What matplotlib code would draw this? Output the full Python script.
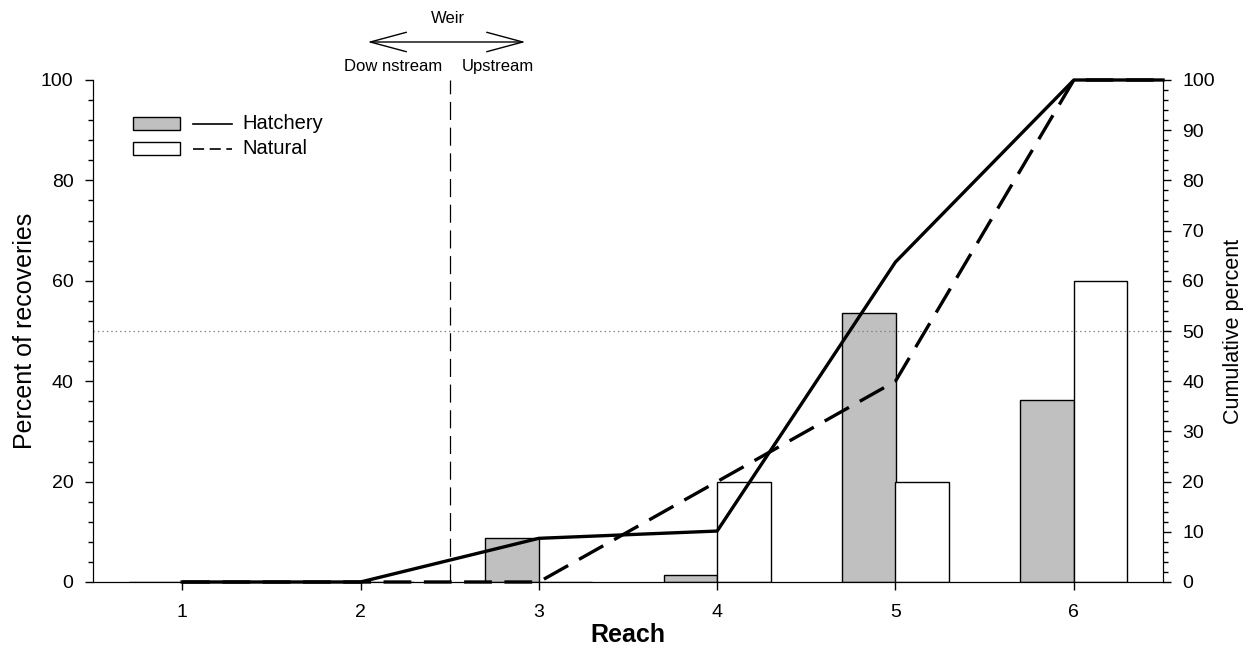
import matplotlib
matplotlib.use('Agg')
import matplotlib.pyplot as plt
from matplotlib.patches import Rectangle

plt.rcParams['font.family'] = ['Liberation Sans', 'DejaVu Sans']
plt.rcParams['lines.scale_dashes'] = False

reach = [1, 2, 3, 4, 5, 6]
hatchery_pct = [0, 0, 8.7, 1.45, 53.6, 36.2]
natural_pct = [0, 0, 0, 20, 20, 60]

cum_x = [1, 2, 3, 4, 5, 6, 6.5]
hatchery_cum = [0, 0, 8.7, 10.15, 63.75, 100, 100]
natural_cum = [0, 0, 0, 20, 40, 100, 100]

weir_pos = 2.5

fig = plt.figure(figsize=(12.51, 6.49), dpi=100)
ax = fig.add_axes([93/1251, 1-582/649, 1070/1251, 502/649])
ax2 = ax.twinx()

w = 0.3
ax.bar([r - w for r in reach], hatchery_pct, width=w, align='edge',
       color='#c0c0c0', edgecolor='black', linewidth=1)
ax.bar(reach, natural_pct, width=w, align='edge',
       color='white', edgecolor='black', linewidth=1)

ax.set_xlim(0.5, 6.5)
ax.set_ylim(0, 100)
ax.set_xticks(reach)
ax.set_yticks(range(0, 101, 20))
ax.set_yticks(range(0, 101, 4), minor=True)
ax.spines['top'].set_visible(False)
ax2.spines['top'].set_visible(False)

ax.axhline(50, color='#808080', lw=0.9, linestyle=(0, (1, 2.2)))
ax.axvline(weir_pos, ymin=0, ymax=1, color='black', lw=0.9, linestyle=(0, (13, 5.5)))

ax2.plot(cum_x, hatchery_cum, color='black', lw=2.4, clip_on=False, zorder=5)
ax2.plot(cum_x, natural_cum, color='black', lw=2.4, linestyle=(0, (20, 9)),
         clip_on=False, zorder=5)
ax2.set_ylim(0, 100)
ax2.set_yticks(range(0, 101, 10))
ax2.set_yticks(range(0, 101, 2), minor=True)

for a in (ax, ax2):
    a.tick_params(which='major', length=6, width=1, labelsize=14, direction='out')
    a.tick_params(which='minor', length=3.5, width=1, direction='out')
ax.tick_params(axis='x', pad=10)
ax.tick_params(axis='y', pad=8)
ax2.tick_params(axis='y', pad=8)

ax.set_xlabel('Reach', fontsize=18, fontweight='bold', labelpad=1)
ax.set_ylabel('Percent of recoveries', fontsize=18, labelpad=3)
ax2.set_ylabel('Cumulative percent', fontsize=15.5, labelpad=6)

# weir annotation above plot
ax.annotate('', xy=(2.04, 1.0757), xytext=(2.925, 1.0757),
            xycoords=('data', 'axes fraction'), textcoords=('data', 'axes fraction'),
            arrowprops=dict(arrowstyle='<->,head_length=26,head_width=7',
                            mutation_scale=1, lw=1, color='black',
                            shrinkA=0, shrinkB=0), annotation_clip=False)
ax.text(2.49, 1.1235, 'Weir', transform=ax.get_xaxis_transform(),
        ha='center', va='center', fontsize=12)
ax.text(2.46, 1.026, 'Dow nstream', transform=ax.get_xaxis_transform(),
        ha='right', va='center', fontsize=12)
ax.text(2.565, 1.026, 'Upstream', transform=ax.get_xaxis_transform(),
        ha='left', va='center', fontsize=12)

# legend
ax.add_patch(Rectangle((0.0374, 0.900), 0.0439, 0.026, transform=ax.transAxes,
                       facecolor='#c0c0c0', edgecolor='black', lw=1, clip_on=False, zorder=6))
ax.add_patch(Rectangle((0.0374, 0.8506), 0.0439, 0.026, transform=ax.transAxes,
                       facecolor='white', edgecolor='black', lw=1, clip_on=False, zorder=6))
ax.plot([0.0935, 0.1299], [0.913, 0.913], transform=ax.transAxes, color='black', lw=1.2)
ax.plot([0.0935, 0.1299], [0.8635, 0.8635], transform=ax.transAxes, color='black', lw=1.2,
        linestyle=(0, (8, 4)))
ax.text(0.140, 0.913, 'Hatchery', transform=ax.transAxes, va='center', fontsize=14.5)
ax.text(0.140, 0.8635, 'Natural', transform=ax.transAxes, va='center', fontsize=14.5)

fig.savefig('out.png', dpi=100)
